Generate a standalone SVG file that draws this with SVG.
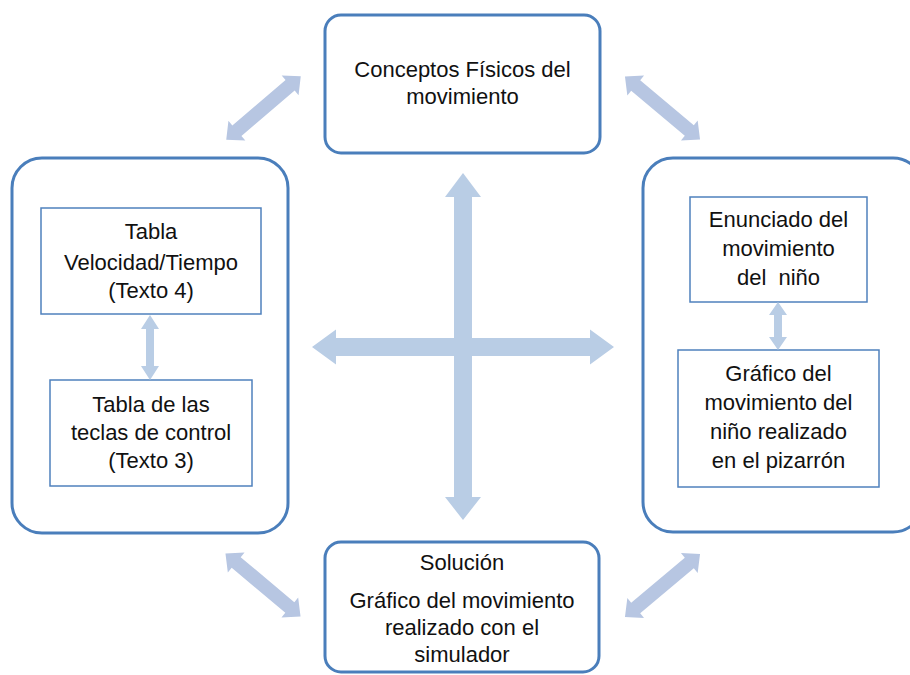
<svg xmlns="http://www.w3.org/2000/svg" width="910" height="675" viewBox="0 0 910 675">
<style>
.outer{fill:#ffffff;stroke:#4a7ebb;stroke-width:3}
.inner{fill:#ffffff;stroke:#4f81bd;stroke-width:1.5}
.t{font-family:"Liberation Sans",Arial,sans-serif;font-size:22px;fill:#111111;text-anchor:middle}
.diag{fill:#b7c6e2}
.cross{fill:#b9cde5}
</style>
<defs>
<polygon id="dArrow" points="-49,0 -35,-13 -35,-7 35,-7 35,-13 49,0 35,13 35,7 -35,7 -35,13"/>
</defs>
<rect width="910" height="675" fill="#ffffff"/>
<g id="connectors">
<use href="#dArrow" class="diag" transform="translate(263.5,108) rotate(-40.5)"/>
<use href="#dArrow" class="diag" transform="translate(662.5,108) rotate(40)"/>
<use href="#dArrow" class="diag" transform="translate(263,585) rotate(40)"/>
<use href="#dArrow" class="diag" transform="translate(662.5,585.5) rotate(-40)"/>
<polygon class="cross" points="463,173 481,197 472,197 472,497 481,497 463,520 445,497 454,497 454,197 445,197"/>
<polygon class="cross" points="312,347 336,329.5 336,338 590,338 590,329.5 614,347 590,364.5 590,356 336,356 336,364.5"/>
</g>
<g id="node-top">
<rect class="outer" x="325" y="15" width="275" height="138" rx="16"/>
<text class="t" x="462.5" y="77">Conceptos Físicos del</text>
<text class="t" x="462.5" y="104">movimiento</text>
</g>
<g id="node-left">
<rect class="outer" x="12" y="158" width="276" height="375" rx="30"/>
<g id="node-left-1">
<rect class="inner" x="41" y="208" width="220" height="106"/>
<text class="t" x="151" y="239">Tabla</text>
<text class="t" x="151" y="270">Velocidad/Tiempo</text>
<text class="t" x="151" y="298">(Texto 4)</text>
</g>
<g id="node-left-2">
<rect class="inner" x="50" y="380" width="202" height="106"/>
<text class="t" x="151" y="412">Tabla de las</text>
<text class="t" x="151" y="440">teclas de control</text>
<text class="t" x="151" y="468">(Texto 3)</text>
</g>
<polygon class="cross" points="150,315 159,329 154,329 154,366 159,366 150,380 141,366 146,366 146,329 141,329"/>
</g>
<g id="node-right">
<rect class="outer" x="643" y="158" width="280" height="374" rx="30"/>
<g id="node-right-1">
<rect class="inner" x="690" y="197" width="177" height="105"/>
<text class="t" x="778.5" y="227">Enunciado del</text>
<text class="t" x="778.5" y="256">movimiento</text>
<text class="t" x="778.5" y="285" xml:space="preserve">del  niño</text>
</g>
<g id="node-right-2">
<rect class="inner" x="678" y="350" width="201" height="137"/>
<text class="t" x="778.5" y="381">Gráfico del</text>
<text class="t" x="778.5" y="410">movimiento del</text>
<text class="t" x="778.5" y="439">niño realizado</text>
<text class="t" x="778.5" y="468">en el pizarrón</text>
</g>
<polygon class="cross" points="778,302 787,315 782,315 782,337 787,337 778,350 769,337 774,337 774,315 769,315"/>
</g>
<g id="node-bottom">
<rect class="outer" x="325" y="542" width="274" height="130" rx="16"/>
<text class="t" x="462" y="570">Solución</text>
<text class="t" x="462" y="608">Gráfico del movimiento</text>
<text class="t" x="462" y="635">realizado con el</text>
<text class="t" x="462" y="662">simulador</text>
</g>
</svg>
